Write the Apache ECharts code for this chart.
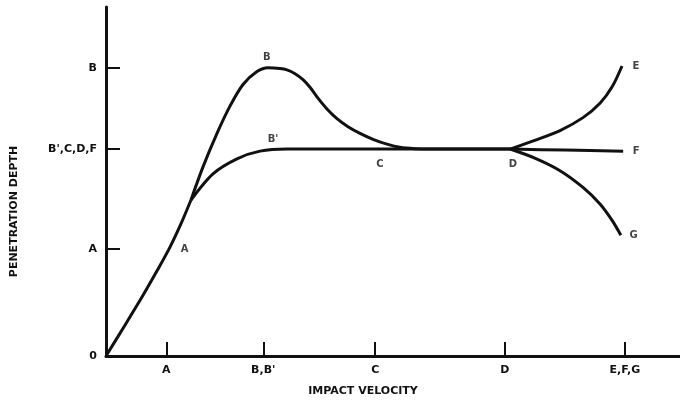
<!DOCTYPE html>
<html>
<head>
<meta charset="utf-8">
<script src="https://cdn.jsdelivr.net/npm/echarts@6/dist/echarts.min.js"></script>
<style>
  html, body { margin: 0; padding: 0; background: #fff; }
  #chart { width: 680px; height: 402px; }
</style>
</head>
<body>
<div id="chart"></div>
<script>
// Axis ticks (positions on a 0..100 scale) and their letter labels
const velocityTicks = [10.5, 27.4, 46.9, 69.5, 90.4];
const velocityLabels = ['A', "B,B'", 'C', 'D', 'E,F,G'];
const depthTicks = [0, 30.6, 59.3, 82.6];
const depthLabels = ['0', 'A', "B',C,D,F", 'B'];

// Common rise from the origin to the split point
const rise = [[0, 0], [3.14, 8.4], [6.45, 17.4], [8.89, 24.4], [11.15, 31.2],
  [13.07, 37.9], [14.8, 44.7]];
// Overshoot branch through B, settling onto the plateau at C
const pathB = [[14.8, 44.7], [16.9, 54.2], [19.34, 63.8], [21.6, 71.6], [23.87, 77.8],
  [26.31, 81.5], [28.22, 82.6], [30.3, 82.4], [31.53, 82.0], [32.93, 80.9],
  [34.32, 79.2], [35.54, 77.0], [36.93, 73.9], [38.5, 70.8], [40.24, 68.0],
  [42.16, 65.7], [44.25, 63.8], [46.52, 62.1], [48.96, 60.7], [51.2, 59.8],
  [53.83, 59.4], [56.45, 59.3], [70.4, 59.3]];
// Branch through B' reaching the plateau directly
const pathBPrime = [[14.8, 44.7], [18.64, 52.2], [22.82, 56.5], [26.83, 58.7],
  [31.53, 59.3], [45.0, 59.3], [70.4, 59.3]];
// Three continuations beyond D
const branchE = [[70.4, 59.3], [74.7, 61.8], [79.1, 64.6], [83.1, 68.3], [86.1, 72.5], [88.2, 77.2], [89.9, 83.1]];
const branchF = [[70.4, 59.3], [80.0, 59.0], [90.1, 58.7]];
const branchG = [[70.4, 59.3], [74.7, 56.7], [79.1, 53.1], [83.1, 48.3], [86.1, 43.5], [88.2, 38.8], [89.7, 34.6]];

// Point letters placed along the curves
const pointNames = ['A', 'B', "B'", 'C', 'D', 'E', 'F', 'G'];
const pointCoords = [[10.5, 30.6], [28.0, 82.6], [29.1, 59.3], [47.7, 59.3],
  [70.9, 59.3], [89.9, 83.1], [90.1, 58.7], [89.7, 34.6]];
const pointPlacement = [['right', 14], ['top', 5], ['top', 4], ['bottom', 10],
  ['bottom', 10], ['right', 10], ['right', 9], ['right', 8]];

const ink = '#111';
const textFont = { color: ink, fontFamily: 'DejaVu Sans', fontWeight: 'bold', fontSize: 10 };
const tickFont = Object.assign({}, textFont, { fontSize: 11 });

function curve(data) {
  return {
    type: 'line', data: data, smooth: 0.3, symbol: 'none',
    lineStyle: { color: ink, width: 3 }, silent: true, z: 3
  };
}

const chart = echarts.init(document.getElementById('chart'), null, { renderer: 'canvas' });
chart.setOption({
  animation: false,
  backgroundColor: '#fff',
  grid: { left: 106, right: 0, top: 7, bottom: 39, containLabel: false },
  xAxis: {
    type: 'value', min: 0, max: 100,
    name: 'IMPACT VELOCITY', nameLocation: 'middle', nameGap: 30,
    nameTextStyle: Object.assign({}, textFont, { fontSize: 11, padding: [0, 60, 0, 0] }),
    axisLine: { show: true, lineStyle: { color: ink, width: 3 } },
    axisTick: { show: true, inside: true, length: 14, customValues: velocityTicks,
      lineStyle: { color: ink, width: 2 } },
    axisLabel: Object.assign({}, tickFont, { margin: 9, customValues: velocityTicks,
      formatter: v => velocityLabels[velocityTicks.indexOf(v)] }),
    splitLine: { show: false }
  },
  yAxis: {
    type: 'value', min: 0, max: 100,
    name: 'PENETRATION DEPTH', nameLocation: 'middle', nameGap: 86,
    nameTextStyle: Object.assign({}, textFont, { fontSize: 11, padding: [0, 60, 0, 0] }),
    axisLine: { show: true, lineStyle: { color: ink, width: 3 } },
    axisTick: { show: true, inside: true, length: 14, customValues: depthTicks,
      lineStyle: { color: ink, width: 2 } },
    axisLabel: Object.assign({}, tickFont, { margin: 9, customValues: depthTicks,
      formatter: v => depthLabels[depthTicks.indexOf(v)] }),
    splitLine: { show: false }
  },
  series: [
    curve(rise), curve(pathB), curve(pathBPrime),
    curve(branchE), curve(branchF), curve(branchG),
    {
      type: 'scatter', silent: true, symbolSize: 1,
      itemStyle: { color: 'rgba(0,0,0,0)' },
      data: pointNames.map((name, i) => ({
        value: pointCoords[i],
        label: Object.assign({ show: true, formatter: name,
          position: pointPlacement[i][0], distance: pointPlacement[i][1] }, textFont)
      })),
      z: 4
    }
  ]
});
</script>
</body>
</html>
